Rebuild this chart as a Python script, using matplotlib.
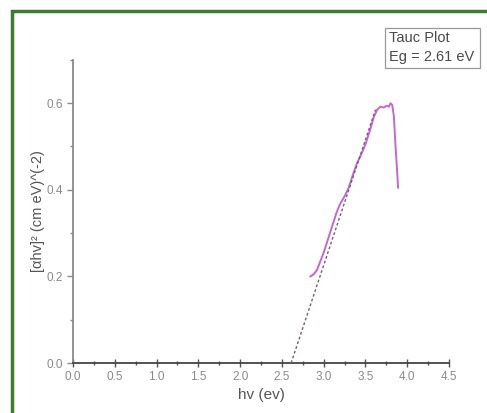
import matplotlib
matplotlib.use("Agg")
import matplotlib.pyplot as plt
from matplotlib.patches import Rectangle
from matplotlib.ticker import MultipleLocator

plt.rcParams['font.family'] = ['Liberation Sans', 'DejaVu Sans']

# measured Tauc curve
hv = [2.84, 2.88, 2.92, 2.96, 3.00, 3.05, 3.10, 3.15, 3.19, 3.25, 3.30, 3.35,
      3.40, 3.45, 3.50, 3.55, 3.60, 3.64, 3.68, 3.72, 3.75, 3.78, 3.80, 3.82,
      3.84, 3.86, 3.88, 3.89]
ahv2 = [0.200, 0.205, 0.215, 0.235, 0.255, 0.285, 0.315, 0.345, 0.365, 0.385,
        0.405, 0.435, 0.462, 0.482, 0.505, 0.535, 0.568, 0.585, 0.592, 0.590,
        0.594, 0.592, 0.600, 0.596, 0.570, 0.500, 0.440, 0.405]

# linear extrapolation to the band gap
eg = 2.61
fit_x = [eg, 3.62]
fit_y = [0.0, 0.585]

x_ticks = [0.0, 0.5, 1.0, 1.5, 2.0, 2.5, 3.0, 3.5, 4.0, 4.5]
y_ticks = [0.0, 0.2, 0.4, 0.6]

fig = plt.figure(figsize=(4.87, 4.13), dpi=100)
ax = fig.add_axes([0.150, 0.121, 0.772, 0.734])

ax.plot(hv, ahv2, color='#c466d6', lw=1.4, zorder=2)
ax.plot(fit_x, fit_y, color='#7a5a80', lw=1.0, ls=(0, (2, 1.6)), zorder=3)

ax.set_xlim(0, 4.5)
ax.set_ylim(0, 0.7)
ax.set_xticks(x_ticks)
ax.set_xticklabels([f"{t:.1f}" for t in x_ticks])
ax.set_yticks(y_ticks)
ax.set_yticklabels([f"{t:.1f}" for t in y_ticks])
ax.xaxis.set_minor_locator(MultipleLocator(0.25))
ax.yaxis.set_minor_locator(MultipleLocator(0.1))

for s in ['top', 'right']:
    ax.spines[s].set_visible(False)
ax.spines['left'].set_color('#8a8a8a')
ax.spines['left'].set_linewidth(1.3)
ax.spines['bottom'].set_color('#444444')
ax.spines['bottom'].set_linewidth(1.3)

ax.tick_params(axis='x', which='major', direction='inout', length=6, width=1.0,
               colors='#555555', labelsize=8.5, labelcolor='#8a8a8a', pad=3)
ax.tick_params(axis='x', which='minor', direction='inout', length=3, width=1.0,
               colors='#555555')
ax.tick_params(axis='y', which='major', direction='out', length=4, width=1.0,
               colors='#8a8a8a', labelsize=8.5, labelcolor='#8a8a8a')
ax.tick_params(axis='y', which='minor', direction='out', length=2, width=1.0,
               colors='#8a8a8a')

ax.set_xlabel("hv (ev)", fontsize=11, color='#555555', labelpad=3)
ax.set_ylabel("[αhv]² (cm eV)^(-2)", fontsize=10.5, color='#555555', labelpad=1)

# legend box
fig.patches.append(Rectangle((385 / 487, (413 - 68) / 413), 95 / 487, 40 / 413,
                             transform=fig.transFigure, fill=True, fc='white',
                             ec='#999999', lw=0.9, zorder=5))
fig.text(389 / 487, (413 - 31) / 413, "Tauc Plot\nEg = 2.61 eV", fontsize=10.5,
         color='#4a4a4a', va='top', ha='left', linespacing=1.45, zorder=6)

# green frame around the picture
fig.patches.append(Rectangle((12 / 487, -0.05), 1.1, (413 - 11) / 413 + 0.05,
                             transform=fig.transFigure, fill=False,
                             ec='#3f7d2e', lw=2.5, zorder=10))

fig.savefig("out.png", dpi=100)
